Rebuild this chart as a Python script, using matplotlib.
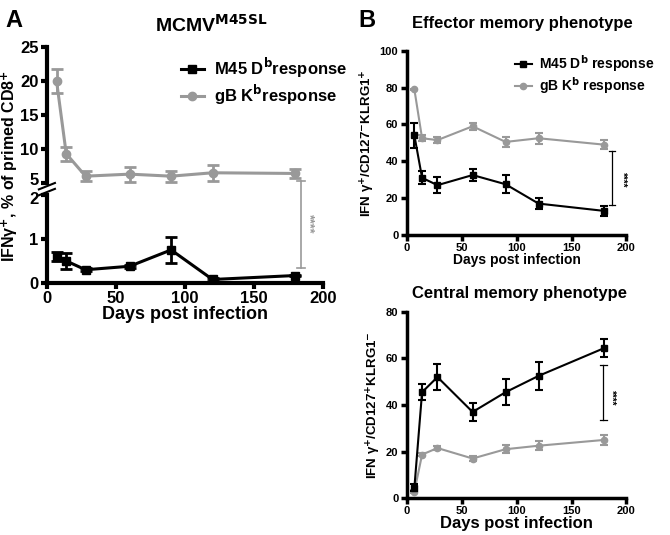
import numpy as np
import matplotlib
matplotlib.use("Agg")
import matplotlib.pyplot as plt
from matplotlib.lines import Line2D
from matplotlib.transforms import ScaledTranslation

plt.rcParams['font.family'] = ['Liberation Sans', 'DejaVu Sans']
plt.rcParams['font.weight'] = 'bold'
plt.rcParams['mathtext.default'] = 'bf'

days = [7, 14, 28, 60, 90, 120, 180]

# panel A (MCMV M45SL)
a_m45 = [0.6, 0.5, 0.3, 0.38, 0.75, 0.08, 0.17]
a_m45_err = [0.1, 0.18, 0.03, 0.03, 0.3, 0.03, 0.02]
a_gb = [20.0, 9.3, 6.0, 6.3, 6.0, 6.5, 6.4]
a_gb_err = [1.8, 1.0, 0.7, 1.1, 0.8, 1.2, 0.6]

# panel B effector memory
e_m45 = [54, 31, 27, 32.5, 27.5, 17, 13]
e_m45_err = [7, 3.5, 4.5, 3.5, 5, 3, 2.5]
e_gb = [79, 52.5, 51.5, 59, 50.5, 52.5, 49]
e_gb_err = [0.5, 1.5, 1.5, 2, 2.5, 3, 2.5]

# panel B central memory
c_m45 = [4.5, 45.5, 52, 37, 45.5, 52.5, 64.5]
c_m45_err = [1.5, 3.5, 5.5, 4, 5.5, 6, 4]
c_gb = [2.8, 18.7, 21.5, 17, 21, 22.5, 25]
c_gb_err = [0.5, 0.5, 1, 1, 1.8, 2, 2]

BLK = 'black'
GRY = '#999999'

fig = plt.figure(figsize=(6.7, 5.35), dpi=100)

def style(ax, lw=2.5, fs=10):
    ax.spines['right'].set_visible(False)
    ax.spines['top'].set_visible(False)
    for s in ['left', 'bottom']:
        ax.spines[s].set_linewidth(lw)
    ax.tick_params(width=lw, length=4, labelsize=fs, pad=2)
    for lab in ax.get_xticklabels() + ax.get_yticklabels():
        lab.set_fontweight('bold')

# ---------- panel A ----------
axt = fig.add_axes([0.070, 0.658, 0.412, 0.254])
axb = fig.add_axes([0.070, 0.471, 0.412, 0.165])

for ax in (axt, axb):
    ax.errorbar(days, a_gb, yerr=a_gb_err, color=GRY, marker='o', ms=6,
                lw=2.2, elinewidth=2, capsize=4, capthick=2, zorder=2)
    ax.errorbar(days, a_m45, yerr=a_m45_err, color=BLK, marker='s', ms=6,
                lw=2.2, elinewidth=2, capsize=4, capthick=2, zorder=3)
    ax.set_xlim(0, 200)

axt.set_ylim(5, 25)
axt.set_yticks([5, 10, 15, 20, 25])
axt.set_xticks([])
axt.spines['bottom'].set_visible(False)
style(axt, lw=3, fs=12)
axb.set_ylim(0, 2)
axb.set_yticks([0, 1, 2])
axb.set_xticks([0, 50, 100, 150, 200])
style(axb, lw=3, fs=12)
axb.set_xlabel('Days post infection', fontsize=13, fontweight='bold', labelpad=0)

# keep the "5" and "2" labels at the break from running into each other
lab5 = axt.get_yticklabels()[0]
lab5.set_transform(lab5.get_transform() + ScaledTranslation(0, 2.5 / 72, fig.dpi_scale_trans))
lab2 = axb.get_yticklabels()[-1]
lab2.set_transform(lab2.get_transform() + ScaledTranslation(0, -2.5 / 72, fig.dpi_scale_trans))

# break marks
d = 0.012
kw = dict(color='k', lw=1.5, clip_on=False, transform=fig.transFigure)
for yy in (0.652, 0.641):
    fig.add_artist(Line2D([0.070 - d, 0.070 + d], [yy - 0.006, yy + 0.006], **kw))

hA = [Line2D([], [], color=BLK, marker='s', ms=6, lw=2.2),
      Line2D([], [], color=GRY, marker='o', ms=6, lw=2.2)]
axt.legend(hA, ['M45 D$^{b}$response', 'gB K$^{b}$response'], loc='upper right',
           bbox_to_anchor=(1.13, 1.02), frameon=False, fontsize=12,
           handlelength=1.4, handletextpad=0.6, borderpad=0.2, labelspacing=0.15)

# significance bar A
axb.plot([184, 184], [0.35, 2.32], color=GRY, lw=1.2, clip_on=False)
axb.plot([181, 187], [0.35, 0.35], color=GRY, lw=1.2, clip_on=False)
axb.plot([181, 187], [2.32, 2.32], color=GRY, lw=1.2, clip_on=False)
axb.text(190, 1.35, '****', rotation=270, ha='center', va='center',
         fontsize=9, color=GRY)

fig.text(0.014, 0.69, 'IFNγ$^{+}$, % of primed CD8$^{+}$', rotation=90,
         ha='center', va='center', fontsize=11.5, fontweight='bold')
fig.text(0.316, 0.953, 'MCMV$^{M45SL}$', ha='center', va='center',
         fontsize=14, fontweight='bold')
fig.text(0.008, 0.962, 'A', ha='left', va='center', fontsize=17, fontweight='bold')
fig.text(0.535, 0.962, 'B', ha='left', va='center', fontsize=17, fontweight='bold')

# ---------- panel B ----------
def panel(rect, m45, m45e, gb, gbe, ymax, yticks, ylabel, bar, star):
    ax = fig.add_axes(rect)
    ax.errorbar(days, gb, yerr=gbe, color=GRY, marker='o', ms=4.5,
                lw=1.5, elinewidth=1.5, capsize=3, capthick=1.5, zorder=2)
    ax.errorbar(days, m45, yerr=m45e, color=BLK, marker='s', ms=5,
                lw=1.5, elinewidth=1.5, capsize=3, capthick=1.5, zorder=3)
    ax.set_xlim(0, 200)
    ax.set_ylim(0, ymax)
    ax.set_yticks(yticks)
    ax.set_xticks([0, 50, 100, 150, 200])
    style(ax, lw=2.5, fs=8)
    ax.set_ylabel(ylabel, fontsize=9.5, fontweight='bold', labelpad=2)
    x, y0, y1 = bar
    ax.plot([x, x], [y0, y1], color=BLK, lw=0.9)
    ax.plot([x - 3, x + 3], [y0, y0], color=BLK, lw=0.9)
    ax.plot([x - 3, x + 3], [y1, y1], color=BLK, lw=0.9)
    ax.text(star[0], star[1], '****', rotation=270, ha='center', va='center',
            fontsize=7, color=BLK)
    return ax

ax1 = panel([0.607, 0.561, 0.328, 0.344], e_m45, e_m45_err, e_gb, e_gb_err,
            100, [0, 20, 40, 60, 80, 100],
            'IFN γ$^{+}$/CD127$^{-}$KLRG1$^{+}$', (187, 16, 45.5), (196, 30))
ax1.set_xlabel('Days post infection', fontsize=10, fontweight='bold', labelpad=0)
hB = [Line2D([], [], color=BLK, marker='s', ms=5, lw=1.5),
      Line2D([], [], color=GRY, marker='o', ms=4.5, lw=1.5)]
ax1.legend(hB, ['M45 D$^{b}$ response', 'gB K$^{b}$ response'], loc='upper right',
           bbox_to_anchor=(1.17, 1.04), frameon=False, fontsize=10,
           handlelength=1.2, handletextpad=0.5, borderpad=0.2, labelspacing=0.1)
fig.text(0.78, 0.957, 'Effector memory phenotype', ha='center', va='center',
         fontsize=12, fontweight='bold')

ax2 = panel([0.607, 0.069, 0.328, 0.348], c_m45, c_m45_err, c_gb, c_gb_err,
            80, [0, 20, 40, 60, 80],
            'IFN γ$^{+}$/CD127$^{+}$KLRG1$^{-}$', (179, 33.5, 57), (186, 43))
ax2.set_xlabel('Days post infection', fontsize=12, fontweight='bold', labelpad=0)
fig.text(0.776, 0.452, 'Central memory phenotype', ha='center', va='center',
         fontsize=12, fontweight='bold')

fig.savefig('out.png', dpi=100)
